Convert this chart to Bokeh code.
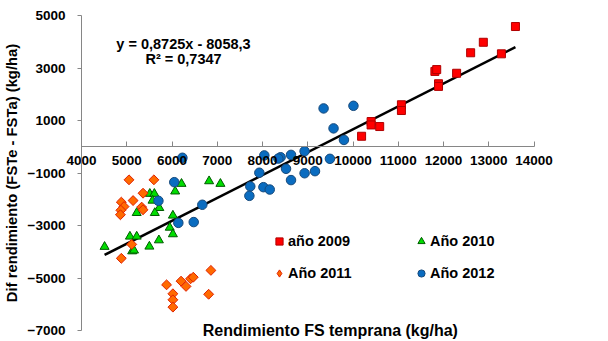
import numpy as np
from bokeh.plotting import figure
from bokeh.models import Range1d, FixedTicker, Legend, LegendItem, Label
from bokeh.embed import file_html
from bokeh.resources import INLINE

# ---------------- data ----------------
x_2009 = [13590, 12880, 12600, 13280, 11810, 11850, 12290, 11890, 11890, 11070, 11070, 10400, 10400, 10590, 10190]
y_2009 = [4580, 3980, 3580, 3540, 2870, 2940, 2800, 2400, 2300, 1600, 1380, 960, 830, 770, 400]

x_2010 = [6210, 6070, 6820, 7070, 5510, 5610, 5570, 5720, 5220, 5620, 6020, 5950, 6020, 5070, 5220, 5710, 5500, 4510, 5120, 5160]
y_2010 = [-1410, -1700, -1310, -1410, -1790, -1790, -2050, -2330, -2520, -2520, -2620, -3080, -3330, -3420, -3420, -3560, -3800, -3810, -3980, -3950]

x_2011 = [5050, 5600, 5360, 5140, 4880, 4940, 4870, 4860, 5330, 5360, 5110, 4880, 6860, 5880, 6200, 6310, 6410, 6470, 6810, 6020, 6020, 6020]
y_2011 = [-1260, -1260, -1770, -2050, -2110, -2280, -2420, -2590, -2300, -2400, -3720, -4250, -4710, -5260, -5120, -5320, -5030, -4970, -5620, -5600, -5830, -6110]

x_2012 = [9350, 10010, 9570, 9800, 9490, 8930, 8630, 8400, 8350, 8040, 8520, 7930, 8930, 9160, 8630, 7730, 8020, 8160, 7710, 6670, 6230, 6050, 5700, 6140, 6480]
y_2012 = [1460, 1560, 700, 260, -460, -170, -310, -400, -450, -330, -840, -990, -1010, -930, -1270, -1510, -1540, -1630, -1870, -2210, -420, -1350, -2060, -2900, -2870]

slope = 0.8725
intercept = -8058.3
r2 = 0.7347

x_ticks = [4000, 5000, 6000, 7000, 8000, 9000, 10000, 11000, 12000, 13000, 14000]
y_ticks = [-7000, -5000, -3000, -1000, 1000, 3000, 5000]

labels = ["año 2009", "Año 2010", "Año 2011", "Año 2012"]
x_title = "Rendimiento FS temprana (kg/ha)"
y_title = "Dif rendimiento (FSTe - FSTa) (kg/ha)"

FONT = "Liberation Sans"
AXIS_COLOR = "#868686"
W, H = 608, 341

# pixel layout of the plotting area (axes drawn inside a full-canvas frame)
left_px, right_px, top_px, bottom_px = 81, 533.5, 15, 330
kx = (right_px - left_px) / (x_ticks[-1] - x_ticks[0])
ky = (bottom_px - top_px) / (y_ticks[-1] - y_ticks[0])
xr = Range1d(x_ticks[0] - left_px / kx, x_ticks[-1] + (W - right_px) / kx)
yr = Range1d(y_ticks[0] - (H - bottom_px) / ky, y_ticks[-1] + top_px / ky)

p = figure(width=W, height=H, x_range=xr, y_range=yr,
           output_backend="svg", toolbar_location=None,
           min_border_left=0, min_border_right=0,
           min_border_top=0, min_border_bottom=0)
p.outline_line_color = None
p.xgrid.visible = False
p.ygrid.visible = False
p.background_fill_color = "white"
p.border_fill_color = "white"

# x axis crossing at y = 0
xa = p.xaxis[0]
xa.fixed_location = 0
xa.bounds = (x_ticks[0], x_ticks[-1])
xa.ticker = FixedTicker(ticks=x_ticks, minor_ticks=[])
xa.axis_line_color = AXIS_COLOR
xa.major_tick_line_color = AXIS_COLOR
xa.major_tick_in = 5
xa.major_tick_out = 0
xa.minor_tick_in = 0
xa.minor_tick_out = 0
xa.major_label_standoff = 9
xa.major_label_text_font = FONT
xa.major_label_text_font_style = "bold"
xa.major_label_text_font_size = "13.5px"
xa.major_label_text_color = "black"

# y axis at x = 4000
ya = p.yaxis[0]
ya.fixed_location = x_ticks[0]
ya.bounds = (y_ticks[0], y_ticks[-1])
ya.ticker = FixedTicker(ticks=y_ticks, minor_ticks=[])
ya.axis_line_color = AXIS_COLOR
ya.major_tick_line_color = AXIS_COLOR
ya.major_tick_in = 0
ya.major_tick_out = 4
ya.minor_tick_in = 0
ya.minor_tick_out = 0
ya.major_label_standoff = 12
ya.major_label_text_font = FONT
ya.major_label_text_font_style = "bold"
ya.major_label_text_font_size = "13.5px"
ya.major_label_text_color = "black"
ya.axis_label = y_title
ya.axis_label_standoff = 5
ya.axis_label_text_font = FONT
ya.axis_label_text_font_style = "bold"
ya.axis_label_text_font_size = "14.8px"
ya.axis_label_text_color = "black"

# trend line over the data extent
all_x = np.array(x_2009 + x_2010 + x_2011 + x_2012, dtype=float)
tx = np.array([all_x.min(), all_x.max()])
ty = slope * tx + intercept
p.line(tx, ty, line_color="black", line_width=2.5)

C09 = dict(fill_color="#FF0000", line_color="#B00000", line_width=1)
C10 = dict(fill_color="#00DD00", line_color="#005A00", line_width=1)
C11 = dict(fill_color="#FF6A00", line_color="#E02000", line_width=1)
C12 = dict(fill_color="#0A6CC0", line_color="#174A7C", line_width=1)

r09 = p.scatter(x_2009, y_2009, marker="square", size=8, **C09)
r10 = p.scatter(x_2010, y_2010, marker="triangle", size=9, **C10)
r11 = p.scatter(x_2011, y_2011, marker="square", angle=np.pi / 4, size=7, **C11)
r12 = p.scatter(x_2012, y_2012, marker="circle", size=9.5, **C12)
# legend-only glyph for the diamond series (a rotated square is not rotated in legends);
# it holds a single missing value, so nothing is drawn in the plot area
r11_leg = p.scatter([np.nan], [np.nan], marker="diamond", size=10, **C11)

def fmt(v, d):
    return f"{v:.{d}f}".replace(".", ",")

eq_text = "y = " + fmt(slope, 4) + "x - " + fmt(-intercept, 1)
r2_text = "R² = " + fmt(r2, 4)
for txt, yy in [(eq_text, 3933), (r2_text, 3324)]:
    p.add_layout(Label(x=6254, y=yy, text=txt, text_align="center",
                       text_baseline="middle", text_font=FONT,
                       text_font_style="bold", text_font_size="14.5px",
                       text_color="black"))

p.add_layout(Label(x=9500, y=y_ticks[0], text=x_title, text_align="center",
                   text_baseline="middle", text_font=FONT,
                   text_font_style="bold", text_font_size="16px",
                   text_color="black"))

def make_legend(items, loc):
    lg = Legend(items=items, location=loc, orientation="vertical",
                background_fill_alpha=0, border_line_color=None,
                label_text_font=FONT, label_text_font_style="bold",
                label_text_font_size="14.5px", label_text_color="black",
                glyph_width=18, glyph_height=18, label_standoff=0,
                spacing=14, padding=0, margin=0)
    p.add_layout(lg)

make_legend([LegendItem(label=labels[0], renderers=[r09]),
             LegendItem(label=labels[2], renderers=[r11_leg])], (270, 59))
make_legend([LegendItem(label=labels[1], renderers=[r10]),
             LegendItem(label=labels[3], renderers=[r12])], (412, 59))

open("out.html", "w").write(file_html(p, INLINE))
